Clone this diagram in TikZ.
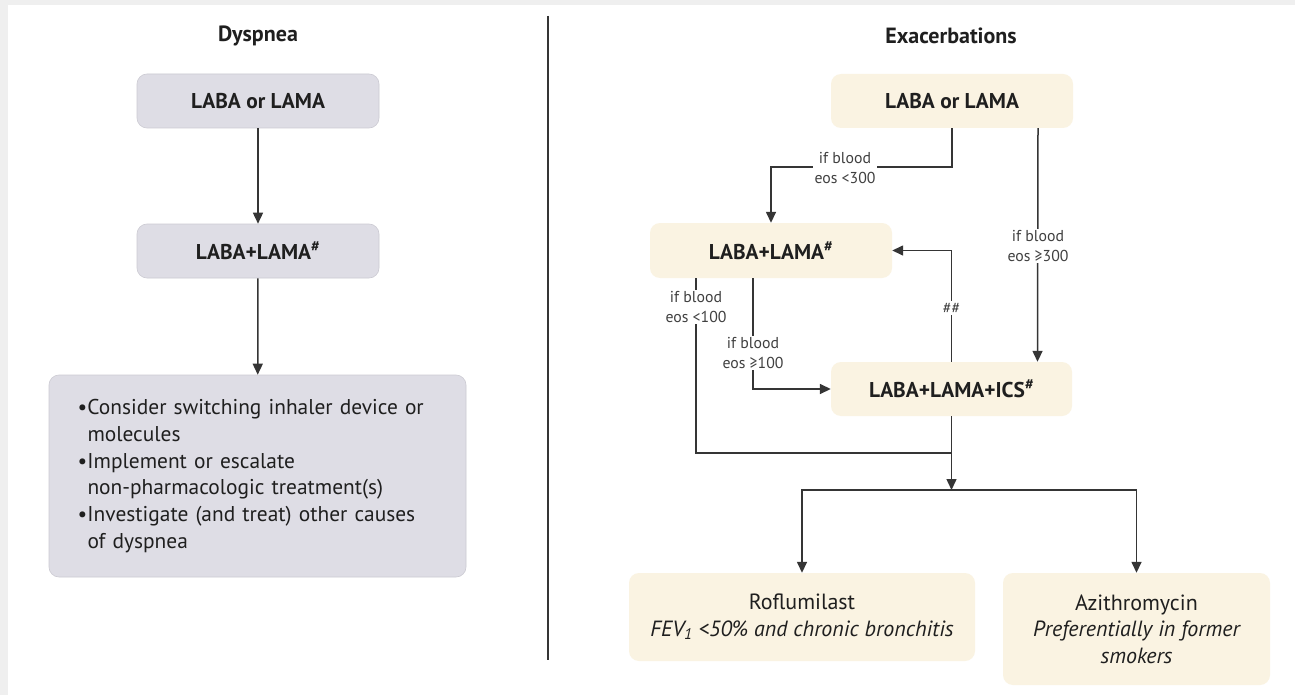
\documentclass[tikz,border=0pt]{standalone}
\usepackage{fontspec}
\setmainfont{PT Sans}
\usetikzlibrary{arrows.meta}
\definecolor{dysfill}{HTML}{DEDDE5}
\definecolor{exafill}{HTML}{FAF3E2}
\definecolor{linegray}{HTML}{353535}
\definecolor{framegray}{HTML}{EFEFEF}
\begin{document}
\begin{tikzpicture}[x=1pt, y=-1pt,
    every node/.style={font=\fontsize{21.4}{26.7}\selectfont, text=black!88},
    dysbox/.style={rounded corners=10pt, fill=dysfill, draw=dysfill!92!black, line width=0.6pt},
    exabox/.style={rounded corners=10pt, fill=exafill},
    title/.style={font=\bfseries\fontsize{22}{26}\selectfont},
    cond/.style={fill=white, align=center, inner sep=1.5pt, text=black!75, font=\fontsize{15.8}{20.5}\selectfont},
    flow/.style={draw=linegray, line width=1.5pt, -{Triangle[length=11pt,width=10pt]}},
    link/.style={draw=linegray, line width=1.5pt}]
  \fill[framegray] (0,0) rectangle (1295,695);
  \fill[white] (8,5) rectangle (1295,695);
  \useasboundingbox (0,0) rectangle (1295,695);
  % titles and divider
  \node[title] (tdys) at (258,36) {Dyspnea};
  \node[title] (texa) at (951,36) {Exacerbations};
  \draw[linegray, line width=1.2pt] (548,16) -- (548,660);
  % dyspnea column
  \node (dy1) at (258,101) [dysbox, minimum width=242, minimum height=54] {\bfseries LABA or LAMA};
  \node (dy2) at (258,251) [dysbox, minimum width=242, minimum height=54] {\bfseries LABA+LAMA\textsuperscript{\#}};
  \node (dy3) at (257.5,476) [dysbox, minimum width=417, minimum height=202, text width=360, align=left]
    {\makebox[10pt][l]{\textbullet}Consider switching inhaler device or\\
     \hspace*{10pt}molecules\\
     \makebox[10pt][l]{\textbullet}Implement or escalate\\
     \hspace*{10pt}non-pharmacologic treatment(s)\\
     \makebox[10pt][l]{\textbullet}Investigate (and treat) other causes\\
     \hspace*{10pt}of dyspnea};
  % exacerbations column
  \node (ex1) at (952,101) [exabox, minimum width=242, minimum height=54] {\bfseries LABA or LAMA};
  \node (ex2) at (771,250.5) [exabox, minimum width=242, minimum height=55] {\bfseries LABA+LAMA\textsuperscript{\#}};
  \node (ex3) at (951.5,389) [exabox, minimum width=241, minimum height=54] {\bfseries LABA+LAMA+ICS\textsuperscript{\#}};
  \node (ex4) at (802,617) [exabox, minimum width=346, minimum height=88, align=center,
    font=\fontsize{22}{26.5}\selectfont]
    {Roflumilast\\ \itshape FEV\textsubscript{1} <50\% and chronic bronchitis};
  \node (ex5) at (1136.5,629) [exabox, minimum width=267, minimum height=112, align=center,
    font=\fontsize{22}{26.5}\selectfont]
    {Azithromycin\\ \itshape Preferentially in former\\ \itshape smokers};
  \coordinate (k300) at (952,167);
  \coordinate (merge) at (951.5,453);
  \coordinate (split) at (951.5,490);
  % connectors
  \foreach \source/\dest in {dy1/dy2, dy2/dy3}
    \draw[flow] (\source) -- (\dest);
  \draw[flow] (ex1.south) -- (k300) -| (ex2.north);
  \draw[flow] ([xshift=86pt]ex1.south) -- ([xshift=86pt]ex3.north);
  \draw[flow] (ex3.north) |- (ex2.east);
  \draw[flow] ([xshift=-18pt]ex2.south) |- (ex3.west);
  \draw[link] ([xshift=-75pt]ex2.south) |- (merge);
  \draw[flow] (ex3.south) -- (split);
  \foreach \dest in {ex4, ex5}
    \draw[flow] (split) -| (\dest.north);
  % conditions
  \node[cond] (c300) at (845,168) {if blood\\eos <300};
  \node[cond] (g300) at (1038,246) {if blood\\eos ≥300};
  \node[cond] (back) at (951.5,308) {\#\#};
  \node[cond] (c100) at (696,307) {if blood\\eos <100};
  \node[cond] (g100) at (753,353) {if blood\\eos ≥100};
\end{tikzpicture}
\end{document}
